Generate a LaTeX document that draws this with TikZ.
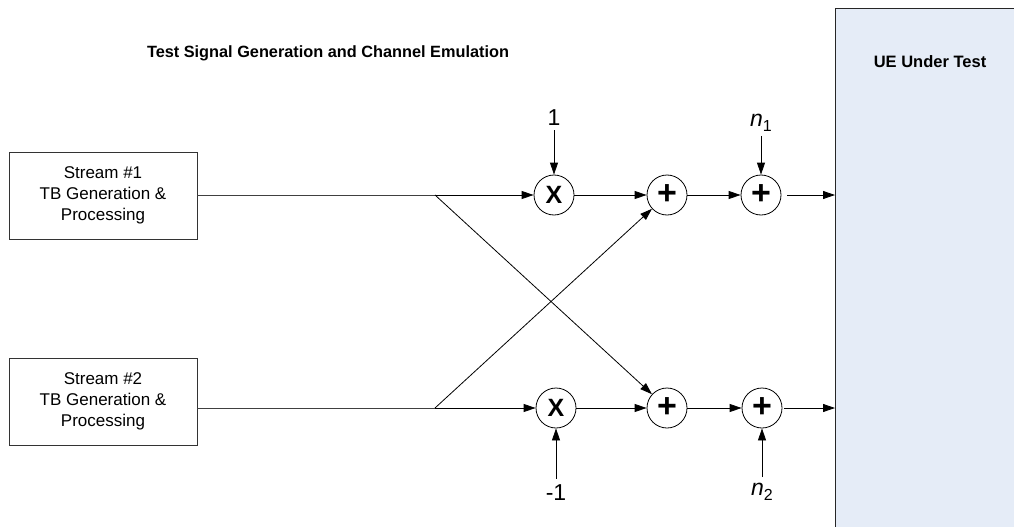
\documentclass[tikz,border=0pt]{standalone}
\usepackage{fontspec}
\setmainfont{Liberation Sans}
\usetikzlibrary{arrows.meta}
\definecolor{uefill}{HTML}{E5ECF7}
\begin{document}
\begin{tikzpicture}[x=1pt,y=-1pt,
  blk/.style={draw=black!80,line width=0.8pt,minimum width=188pt,minimum height=87pt,align=center,inner sep=0pt,font=\fontsize{17}{21}\selectfont},
  op/.style={draw=black,line width=0.8pt,circle,minimum size=40pt,inner sep=0pt,font=\fontsize{25}{26}\selectfont\bfseries},
  sumop/.style={op,font=\fontsize{34}{34}\selectfont\bfseries},
  lbl/.style={inner sep=0pt,font=\fontsize{23}{24}\selectfont},
  wire/.style={line width=0.8pt,draw=black!75},
  arr/.style={line width=0.8pt,-{Triangle[length=12pt,width=8pt]}}
]
\useasboundingbox (0,0) rectangle (1014,527);
\begin{scope}
\clip (0,0) rectangle (1014,527);
\node[draw=black!85,fill=uefill,line width=1pt,minimum width=200pt,minimum height=540pt,anchor=north west,inner sep=0pt] (ue) at (835,8) {};
\end{scope}
\node[font=\fontsize{16.5}{18}\selectfont\bfseries] (uet) at (930,62) {UE Under Test};
\node[font=\fontsize{16.3}{18}\selectfont\bfseries] (title) at (328,53) {Test Signal Generation and Channel Emulation};

\node[blk] (s1) at (103,195.5) {Stream \#1\\TB Generation \&\\Processing};
\node[blk] (s2) at (103,401.5) {Stream \#2\\TB Generation \&\\Processing};

\node[op] (x1) at (554,195) {\textbf{X}};
\node[sumop] (p1) at (667,195) {\textbf{+}};
\node[sumop] (q1) at (761,195) {\textbf{+}};
\node[op] (x2) at (556,408) {\textbf{X}};
\node[sumop] (p2) at (667,408) {\textbf{+}};
\node[sumop] (q2) at (762,408) {\textbf{+}};

\coordinate (o1) at (835,195);
\coordinate (o2) at (835,408);
\coordinate (a1) at (435,195);
\coordinate (a2) at (435,408);

\node[lbl] (one) at (554,118) {1};
\node[lbl] (mone) at (556,493) {-1};
\node[lbl] (n1) at (761,123) {\itshape n\/\upshape\raisebox{-0.22em}{\fontsize{16}{16}\selectfont 1}};
\node[lbl] (n2) at (762,492) {\itshape n\/\upshape\raisebox{-0.22em}{\fontsize{16}{16}\selectfont 2}};

\draw[wire] (s1.east |- a1) -- (a1);
\draw[wire] (s2.east |- a2) -- (a2);
\draw[arr] (a1) -- (x1);
\draw[arr] (a2) -- (x2);
\draw[arr] (a1) -- (p2);
\draw[arr] (a2) -- (p1);
\draw[arr] (x1) -- (p1);
\draw[arr] (p1) -- (q1);
\draw[arr] (x2) -- (p2);
\draw[arr] (p2) -- (q2);
\draw[arr,shorten <=6pt] (q1) -- (o1);
\draw[arr,shorten <=2pt] (q2) -- (o2);
\draw[arr,shorten <=4pt] (one) -- (x1);
\draw[arr,shorten <=4pt] (n1) -- (q1);
\draw[arr,shorten <=6pt] (mone) -- (x2);
\draw[arr,shorten <=6pt] (n2) -- (q2);
\end{tikzpicture}
\end{document}
